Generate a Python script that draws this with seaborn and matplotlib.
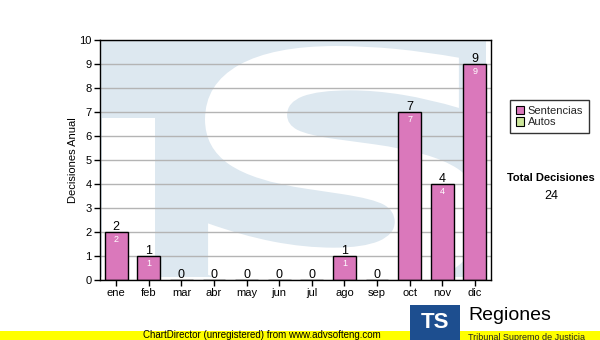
import numpy as np
import pandas as pd
import matplotlib
matplotlib.use("Agg")
import matplotlib.pyplot as plt
import matplotlib.transforms as mtransforms
from matplotlib.textpath import TextPath
from matplotlib.patches import PathPatch, Rectangle, Patch
from matplotlib.font_manager import FontProperties
import seaborn as sns

# ---- data ----
months = ["ene", "feb", "mar", "abr", "may", "jun", "jul", "ago", "sep", "oct", "nov", "dic"]
sentencias = [2, 1, 0, 0, 0, 0, 0, 1, 0, 7, 4, 9]
autos = [0, 0, 0, 0, 0, 0, 0, 0, 0, 0, 0, 0]
y_ticks = [0, 1, 2, 3, 4, 5, 6, 7, 8, 9, 10]
series_names = ["Sentencias", "Autos"]

totals = [s + a for s, a in zip(sentencias, autos)]
total_decisiones = sum(totals)

df = pd.DataFrame({"mes": months, "Sentencias": sentencias, "Autos": autos})

sns.set_theme(style="white")
plt.rcParams["font.family"] = ["Liberation Sans", "DejaVu Sans"]

W, H = 600, 340
fig = plt.figure(figsize=(W / 100, H / 100), dpi=100)
fig.patch.set_facecolor("white")
ax = fig.add_axes([100 / W, 60 / H, 391 / W, 240 / H])
ax.set_facecolor("white")

# pixel transform (origin top-left)
px = mtransforms.Affine2D().scale(1 / W, -1 / H).translate(0, 1) + fig.transFigure

# ---- watermark (TS logo) ----
wm_blue = "#dde8f0"
ax.add_patch(Rectangle((100, 40), 386, 237, transform=px, facecolor=wm_blue,
                       edgecolor="none", zorder=0.1))
ax.add_patch(Rectangle((102, 118), 53, 160, transform=px, facecolor="white",
                       edgecolor="none", zorder=0.2))
tp = TextPath((0, 0), "S", size=100, prop=FontProperties(family="DejaVu Sans", weight="bold"))
ext = tp.get_extents()
x0, x1, y0, y1 = 205, 482, 46, 292
T = (mtransforms.Affine2D().translate(-ext.x0, -ext.y0)
     .scale((x1 - x0) / ext.width, -(y1 - y0) / ext.height).translate(x0, y1))
ax.add_patch(PathPatch(T.transform_path(tp), transform=px, facecolor="white",
                       edgecolor="none", zorder=0.2))

# ---- bars ----
pink = "#da78bb"
green = "#cce69a"
sns.barplot(data=df, x="mes", y="Sentencias", color=pink, edgecolor="black",
            linewidth=1, width=0.7, saturation=1, ax=ax, zorder=2)
sns.barplot(data=df, x="mes", y="Autos", bottom=df["Sentencias"], color=green,
            edgecolor="none", linewidth=0, width=0.7, saturation=1, ax=ax, zorder=2)

for i, (s, t) in enumerate(zip(sentencias, totals)):
    ax.text(i, t + 0.1, str(t), ha="center", va="baseline", fontsize=9,
            color="black", zorder=5)
    if s > 0:
        ax.text(i, s - 0.31, str(s), ha="center", va="center", fontsize=6.5,
                color="white", zorder=5)

ax.set_xlim(-0.5, len(months) - 0.5)
ax.set_ylim(0, 10)
ax.set_yticks(y_ticks)
ax.yaxis.grid(True, color="#b4b4b4", linewidth=1)
ax.xaxis.grid(False)
ax.set_axisbelow(True)
for gl in ax.get_ygridlines():
    gl.set_zorder(0.5)

for sp in ax.spines.values():
    sp.set_visible(True)
    sp.set_color("black")
    sp.set_linewidth(1)
    sp.set_zorder(4)

ax.tick_params(axis="both", which="both", direction="out", length=4, width=1,
               color="black", labelsize=8, labelcolor="black", pad=2,
               bottom=True, left=True)
ax.set_xlabel("")
ax.set_ylabel("Decisiones Anual", fontsize=8, color="black", va="center")
ax.yaxis.set_label_coords(-(100 - 73) / 391, 0.5)

# ---- legend ----
handles = [Patch(facecolor=pink, edgecolor="black", linewidth=0.8),
           Patch(facecolor=green, edgecolor="black", linewidth=0.8)]
leg = fig.legend(handles, series_names, loc="upper left",
                 bbox_to_anchor=(510 / W, 1 - 100 / H), fontsize=8,
                 frameon=True, fancybox=False, edgecolor="black",
                 handlelength=0.8, handleheight=0.8, handletextpad=0.3,
                 borderpad=0.5, labelspacing=0.15, borderaxespad=0)
leg.get_frame().set_linewidth(1)

fig.text(551 / W, 1 - 178 / H, "Total Decisiones", ha="center", va="center",
         fontsize=8, fontweight="bold", color="black")
fig.text(551 / W, 1 - 196 / H, str(total_decisiones), ha="center", va="center",
         fontsize=9, color="black")

# ---- footer ----
fig.add_artist(Rectangle((0, 331), W, 9, transform=px, facecolor="#ffff00",
                         edgecolor="none", zorder=1))
fig.text(262 / W, 1 - 335.5 / H, "ChartDirector (unregistered) from www.advsofteng.com",
         ha="center", va="center", fontsize=7, color="black", zorder=2)
fig.add_artist(Rectangle((410, 305), 50, 35, transform=px, facecolor="#1d4e8f",
                         edgecolor="none", zorder=3))
fig.text(435 / W, 1 - 323 / H, "TS", ha="center", va="center", fontsize=16,
         fontweight="bold", color="white", zorder=4)
fig.text(468 / W, 1 - 316 / H, "Regiones", ha="left", va="center", fontsize=14,
         color="black", zorder=4)
fig.text(468 / W, 1 - 337 / H, "Tribunal Supremo de Justicia", ha="left", va="center",
         fontsize=6.5, color="#222222", zorder=4)

fig.savefig("out.png", dpi=100, facecolor="white")
